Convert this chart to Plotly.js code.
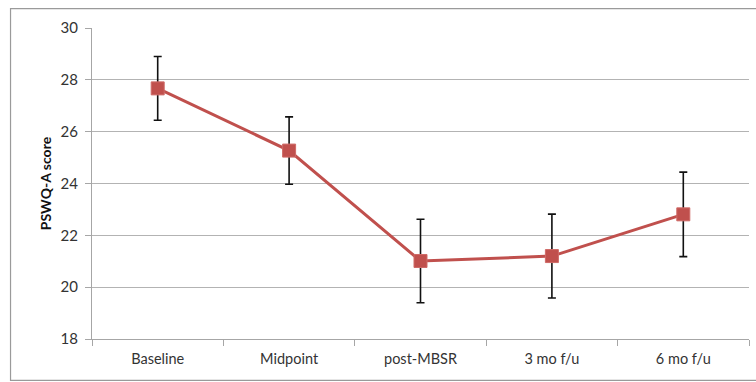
<!DOCTYPE html>
<html>
<head>
<meta charset="utf-8">
<script src="https://cdn.plot.ly/plotly-3.0.1.min.js"></script>
<style>html,body{margin:0;padding:0;background:#fff;}#chart{width:756px;height:382px;}</style>
</head>
<body>
<div id="chart"></div>
<script>
const categories = ["Baseline", "Midpoint", "post-MBSR", "3 mo f/u", "6 mo f/u"];
const scores = [27.67, 25.27, 21.01, 21.2, 22.81];
const errors = [1.23, 1.3, 1.61, 1.62, 1.63];
const yTicks = [18, 20, 22, 24, 26, 28, 30];

const trace = {
  x: categories,
  y: scores,
  type: "scatter",
  mode: "lines+markers",
  line: {color: "#C0504D", width: 3},
  marker: {symbol: "square", size: 13, color: "#C0504D", line: {color: "#CF6A67", width: 1}},
  error_y: {type: "data", array: errors, visible: true, color: "#111111", thickness: 1.6, width: 4},
  cliponaxis: false,
  hoverinfo: "skip"
};

const layout = {
  width: 756,
  height: 382,
  margin: {l: 92, r: 7, t: 28, b: 43},
  paper_bgcolor: "#ffffff",
  plot_bgcolor: "#ffffff",
  showlegend: false,
  font: {family: "Lato, 'Open Sans', sans-serif", size: 14, color: "#333333"},
  xaxis: {
    type: "category",
    range: [-0.5, categories.length - 0.5],
    tickson: "boundaries",
    ticks: "outside",
    ticklen: 6,
    tickcolor: "#A6A6A6",
    showline: true,
    linecolor: "#A6A6A6",
    linewidth: 1,
    showgrid: false,
    zeroline: false,
    ticklabelstandoff: 7,
    tickfont: {size: 14.5, color: "#333333"}
  },
  yaxis: {
    range: [18, 30],
    tickvals: yTicks,
    ticks: "outside",
    ticklen: 6,
    tickcolor: "#A6A6A6",
    showline: true,
    linecolor: "#A6A6A6",
    linewidth: 1,
    showgrid: true,
    gridcolor: "#B3B3B3",
    gridwidth: 1,
    zeroline: false,
    ticklabelstandoff: 4,
    tickfont: {size: 15, color: "#333333"},
    title: {text: "PSWQ-A score", font: {size: 14, color: "#111111", weight: "bold"}, standoff: 5}
  },
  shapes: [{
    type: "rect", xref: "paper", yref: "paper",
    x0: -0.124, x1: 1.02, y0: -0.133, y1: 1.062,
    line: {color: "#9A9A9A", width: 1.2}, fillcolor: "rgba(0,0,0,0)", layer: "below"
  }]
};

Plotly.newPlot("chart", [trace], layout, {staticPlot: true, displayModeBar: false});
</script>
</body>
</html>
